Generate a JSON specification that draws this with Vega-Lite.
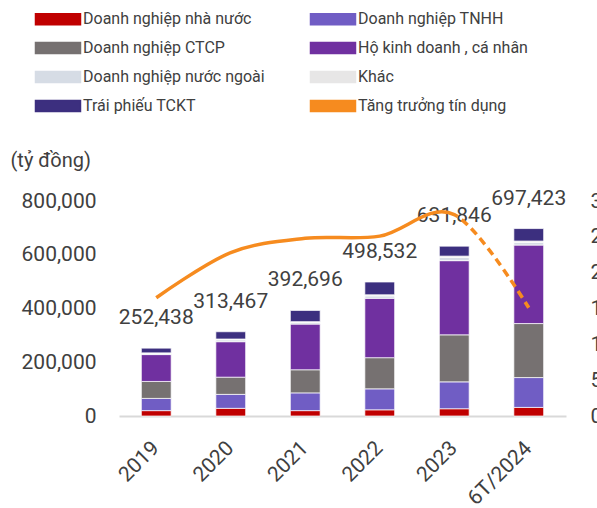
{
  "$schema": "https://vega.github.io/schema/vega-lite/v6.json",
  "width": 447,
  "height": 215,
  "autosize": "none",
  "padding": {"left": 119, "top": 201, "right": 31, "bottom": 92},
  "background": "white",
  "config": {"view": {"stroke": null}, "font": "Roboto"},
  "datasets": {
    "bars": [
      {"year": "2019", "series": "Doanh nghiệp nhà nước", "value": 20000},
      {"year": "2019", "series": "Doanh nghiệp TNHH", "value": 45500},
      {"year": "2019", "series": "Doanh nghiệp CTCP", "value": 63000},
      {"year": "2019", "series": "Hộ kinh doanh , cá nhân", "value": 100000},
      {"year": "2019", "series": "Doanh nghiệp nước ngoài", "value": 4500},
      {"year": "2019", "series": "Khác", "value": 2000},
      {"year": "2019", "series": "Trái phiếu TCKT", "value": 17438},
      {"year": "2020", "series": "Doanh nghiệp nhà nước", "value": 28500},
      {"year": "2020", "series": "Doanh nghiệp TNHH", "value": 52000},
      {"year": "2020", "series": "Doanh nghiệp CTCP", "value": 64000},
      {"year": "2020", "series": "Hộ kinh doanh , cá nhân", "value": 132000},
      {"year": "2020", "series": "Doanh nghiệp nước ngoài", "value": 7000},
      {"year": "2020", "series": "Khác", "value": 3000},
      {"year": "2020", "series": "Trái phiếu TCKT", "value": 26967},
      {"year": "2021", "series": "Doanh nghiệp nhà nước", "value": 20000},
      {"year": "2021", "series": "Doanh nghiệp TNHH", "value": 66000},
      {"year": "2021", "series": "Doanh nghiệp CTCP", "value": 86000},
      {"year": "2021", "series": "Hộ kinh doanh , cá nhân", "value": 170000},
      {"year": "2021", "series": "Doanh nghiệp nước ngoài", "value": 6000},
      {"year": "2021", "series": "Khác", "value": 3000},
      {"year": "2021", "series": "Trái phiếu TCKT", "value": 41696},
      {"year": "2022", "series": "Doanh nghiệp nhà nước", "value": 23000},
      {"year": "2022", "series": "Doanh nghiệp TNHH", "value": 78000},
      {"year": "2022", "series": "Doanh nghiệp CTCP", "value": 116000},
      {"year": "2022", "series": "Hộ kinh doanh , cá nhân", "value": 221000},
      {"year": "2022", "series": "Doanh nghiệp nước ngoài", "value": 9000},
      {"year": "2022", "series": "Khác", "value": 4000},
      {"year": "2022", "series": "Trái phiếu TCKT", "value": 47532},
      {"year": "2023", "series": "Doanh nghiệp nhà nước", "value": 27000},
      {"year": "2023", "series": "Doanh nghiệp TNHH", "value": 100000},
      {"year": "2023", "series": "Doanh nghiệp CTCP", "value": 175000},
      {"year": "2023", "series": "Hộ kinh doanh , cá nhân", "value": 276000},
      {"year": "2023", "series": "Doanh nghiệp nước ngoài", "value": 12000},
      {"year": "2023", "series": "Khác", "value": 5000},
      {"year": "2023", "series": "Trái phiếu TCKT", "value": 36846},
      {"year": "6T/2024", "series": "Doanh nghiệp nhà nước", "value": 32000},
      {"year": "6T/2024", "series": "Doanh nghiệp TNHH", "value": 111000},
      {"year": "6T/2024", "series": "Doanh nghiệp CTCP", "value": 201000},
      {"year": "6T/2024", "series": "Hộ kinh doanh , cá nhân", "value": 292000},
      {"year": "6T/2024", "series": "Doanh nghiệp nước ngoài", "value": 10000},
      {"year": "6T/2024", "series": "Khác", "value": 5000},
      {"year": "6T/2024", "series": "Trái phiếu TCKT", "value": 46423}
    ],
    "growth": [
      {"year": "2019", "g": 0.165},
      {"year": "2020", "g": 0.228},
      {"year": "2021", "g": 0.248},
      {"year": "2022", "g": 0.251},
      {"year": "2023", "g": 0.281},
      {"year": "6T/2024", "g": 0.151}
    ]
  },
  "layer": [
    {
      "data": {"name": "bars"},
      "layer": [
        {
          "transform": [{"calculate": "indexof(['Doanh nghiệp nhà nước', 'Doanh nghiệp TNHH', 'Doanh nghiệp CTCP', 'Hộ kinh doanh , cá nhân', 'Doanh nghiệp nước ngoài', 'Khác', 'Trái phiếu TCKT'], datum.series)", "as": "stackOrder"}],
          "mark": {"type": "bar", "stroke": "white", "strokeWidth": 0.7},
          "encoding": {
            "x": {
              "field": "year", "type": "nominal", "title": null,
              "scale": {"paddingInner": 0.6, "paddingOuter": 0.3},
              "axis": {"labelAngle": -45, "labelFontSize": 21, "labelColor": "#404040", "labelFont": "Roboto",
                       "domainColor": "#d9d9d9", "domainWidth": 2, "ticks": false, "labelPadding": 21, "labelOffset": -8}
            },
            "y": {
              "field": "value", "type": "quantitative", "stack": "zero",
              "scale": {"domain": [0, 800000]},
              "title": "(tỷ đồng)",
              "axis": {"values": [0, 200000, 400000, 600000, 800000], "labelExpr": "format(datum.value, ',')", "grid": false, "domain": false,
                       "ticks": false, "labelFontSize": 21, "labelColor": "#404040", "labelPadding": 23,
                       "title": "(tỷ đồng)", "titleAngle": 0, "titleAlign": "left", "titleBaseline": "middle",
                       "titleX": -109, "titleY": -41, "titleFontSize": 20, "titleFontWeight": "normal", "titleColor": "#404040"}
            },
            "order": {"field": "stackOrder", "type": "quantitative"},
            "color": {
              "field": "series", "type": "nominal",
              "scale": {
                "domain": ["Doanh nghiệp nhà nước", "Doanh nghiệp TNHH", "Doanh nghiệp CTCP", "Hộ kinh doanh , cá nhân", "Doanh nghiệp nước ngoài", "Khác", "Trái phiếu TCKT", "Tăng trưởng tín dụng"],
                "range": ["#c00000", "#705dc4", "#767171", "#7030a0", "#d6dce5", "#e7e6e6", "#3c2f7f", "#f68b1f"]
              },
              "legend": {
                "orient": "none", "legendX": -86, "legendY": -190, "columns": 2, "direction": "horizontal", "title": null,
                "labelFontSize": 16, "labelColor": "#404040", "labelFont": "Roboto", "labelLimit": 300,
                "symbolSize": 121, "labelOffset": 34, "columnPadding": 42, "rowPadding": 11, "gridAlign": "all",
                "symbolType": "M-1,-1L7.18,-1L7.18,1L-1,1Z",
                "encode": {
                  "symbols": {
                    "update": {
                      "shape": {"signal": "datum.value === 'Tăng trưởng tín dụng' ? 'M-1,-0.27L7.18,-0.27L7.18,0.27L-1,0.27Z' : 'M-1,-1L7.18,-1L7.18,1L-1,1Z'"},
                      "fill": {"scale": "color", "field": "value"},
                      "stroke": {"value": "transparent"},
                      "strokeWidth": {"value": 0},
                      "opacity": {"value": 1}
                    }
                  }
                }
              }
            }
          }
        },
        {
          "transform": [{"aggregate": [{"op": "sum", "field": "value", "as": "total"}], "groupby": ["year"]}],
          "mark": {"type": "text", "dy": -30, "fontSize": 21, "color": "#404040", "font": "Roboto"},
          "encoding": {
            "x": {"field": "year", "type": "nominal", "title": null},
            "y": {"field": "total", "type": "quantitative", "title": "(tỷ đồng)",
                  "axis": {"values": [0, 200000, 400000, 600000, 800000], "labelExpr": "format(datum.value, ',')", "grid": false, "domain": false,
                       "ticks": false, "labelFontSize": 21, "labelColor": "#404040", "labelPadding": 23,
                       "title": "(tỷ đồng)", "titleAngle": 0, "titleAlign": "left", "titleBaseline": "middle",
                       "titleX": -109, "titleY": -41, "titleFontSize": 20, "titleFontWeight": "normal", "titleColor": "#404040"}},
            "text": {"field": "total", "type": "quantitative", "format": ","}
          }
        }
      ]
    },
    {
      "data": {"name": "growth"},
      "mark": {"type": "line", "interpolate": "cardinal", "tension": 0, "strokeWidth": 3.5,
               "strokeDash": [322, 5, 8, 5, 8, 5, 8, 5, 8, 5, 8, 5, 8, 5, 8, 5, 8, 5, 8, 5, 8, 5, 8, 5, 8, 5]},
      "encoding": {
        "x": {"field": "year", "type": "nominal", "title": null},
        "y": {
          "field": "g", "type": "quantitative", "scale": {"domain": [0, 0.3]},
          "axis": {"orient": "right", "values": [0, 0.05, 0.1, 0.15, 0.2, 0.25, 0.3], "format": ".0%", "grid": false,
                   "domain": false, "ticks": false, "labelFontSize": 21, "labelColor": "#404040", "labelPadding": 24, "title": null}
        },
        "color": {"datum": "Tăng trưởng tín dụng"}
      }
    }
  ],
  "resolve": {"scale": {"y": "independent"}}
}
